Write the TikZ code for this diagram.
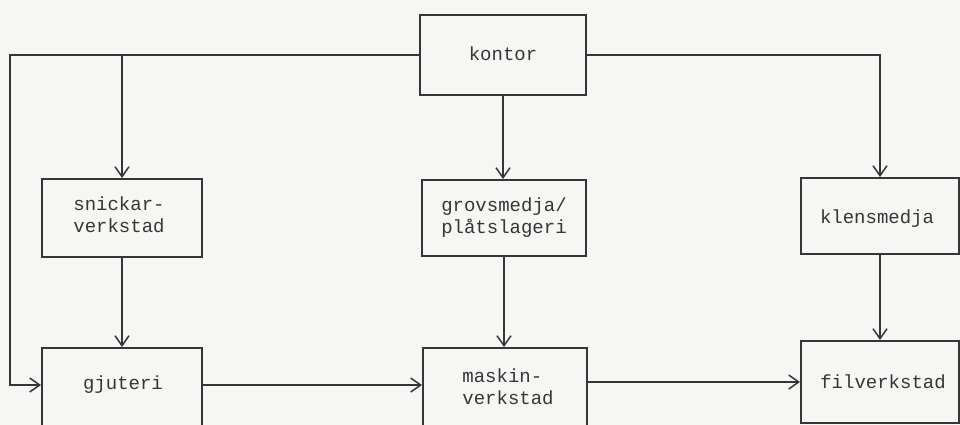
\documentclass[tikz,border=0pt]{standalone}
\usepackage{fontspec}
\setmonofont{Liberation Mono}
\usetikzlibrary{arrows.meta}
\definecolor{ink}{HTML}{363636}
\definecolor{paper}{HTML}{F6F6F4}
\begin{document}
\begin{tikzpicture}[x=1pt,y=-1pt,
  box/.style={draw=ink,line width=2pt,rectangle,inner sep=0pt},
  lbl/.style={text=ink,font=\ttfamily\fontsize{19}{22}\selectfont,align=left,inner sep=0pt},
  arr/.style={draw=ink,line width=1.7pt,-{Straight Barb[length=10pt,width=14pt,line width=1.5pt]}}]
  % page
  \fill[paper] (0,0) rectangle (960,425);
  \clip (0,0) rectangle (960,425);
  \useasboundingbox (0,0) rectangle (960,425);

  % boxes (centre, width, height)
  \node[box,minimum width=166pt,minimum height=80pt] (kontor) at (503,55) {};
  \node[box,minimum width=160pt,minimum height=78pt] (snickar) at (122,218) {};
  \node[box,minimum width=164pt,minimum height=76pt] (grov) at (504,218) {};
  \node[box,minimum width=158pt,minimum height=76pt] (klen) at (880,216) {};
  \node[box,minimum width=160pt,minimum height=100pt] (gjuteri) at (122,398) {};
  \node[box,minimum width=164pt,minimum height=100pt] (maskin) at (505,398) {};
  \node[box,minimum width=158pt,minimum height=82pt] (fil) at (880,382) {};

  % texts
  \node[lbl] (kontor-t) at (503,54) {kontor};
  \node[lbl] (snickar-t) at (119,215) {snickar-\\verkstad};
  \node[lbl] (grov-t) at (504,218) {grovsmedja/\\plåtslageri};
  \node[lbl] (klen-t) at (877,219) {klensmedja};
  \node[lbl] (gjuteri-t) at (123,385) {gjuteri};
  \node[lbl] (maskin-t) at (508,387) {maskin-\\verkstad};
  \node[lbl] (fil-t) at (883,382) {filverkstad};

  % left rail
  \coordinate (rail) at (10,0);

  % connectors from kontor
  \draw[arr] (kontor.west) -- (kontor.west -| rail) -- (rail |- gjuteri-t) -- (gjuteri-t -| gjuteri.west);
  \draw[arr] (kontor.west -| snickar.north) -- (snickar.north);
  \draw[arr] (kontor.south) -- (kontor.south |- grov.north);
  \draw[arr] (kontor.east) -| (klen.north);

  % vertical flows
  \draw[arr] (snickar.south) -- (snickar.south |- gjuteri.north);
  \draw[arr] (grov.south) -- (grov.south |- maskin.north);
  \draw[arr] (klen.south) -- (klen.south |- fil.north);

  % horizontal flows
  \draw[arr] (gjuteri-t -| gjuteri.east) -- (gjuteri-t -| maskin.west);
  \draw[arr] (fil-t -| maskin.east) -- (fil-t -| fil.west);
\end{tikzpicture}
\end{document}
